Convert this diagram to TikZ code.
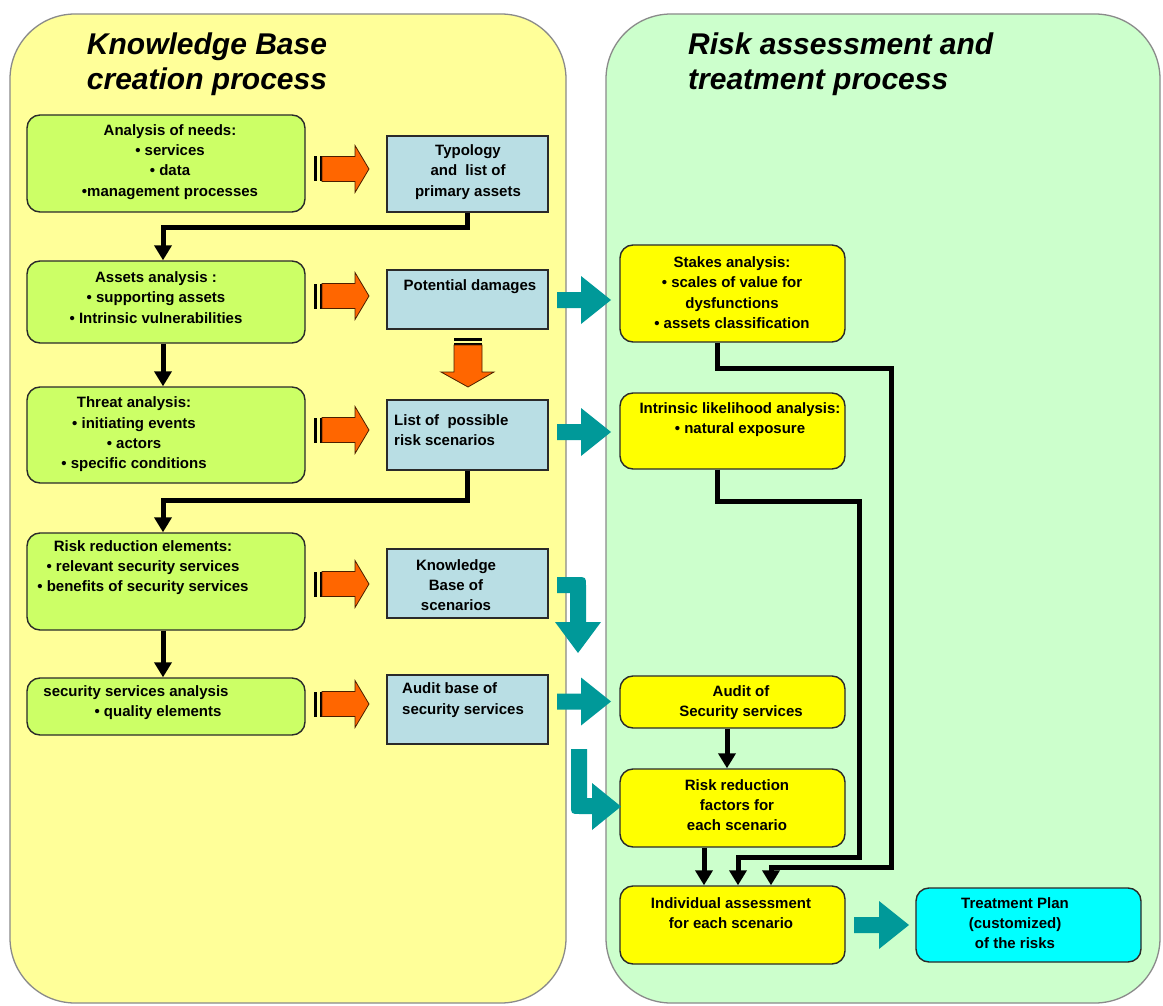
\documentclass[tikz,border=0pt]{standalone}
\usepackage{fontspec}
\setmainfont{Liberation Sans}
\usetikzlibrary{arrows.meta,calc}

\definecolor{panelY}{HTML}{FFFF99}
\definecolor{panelG}{HTML}{CCFFCC}
\definecolor{panelEdge}{HTML}{8A8A8A}
\definecolor{greenbox}{HTML}{CCFF66}
\definecolor{bluebox}{HTML}{B9DEE4}
\definecolor{yellowbox}{HTML}{FFFF00}
\definecolor{cyanbox}{HTML}{00FFFF}
\definecolor{blockorange}{HTML}{FF6600}
\definecolor{blockteal}{HTML}{009999}
\definecolor{boxedge}{HTML}{2A2A2A}

\tikzset{
  panel/.style={draw=panelEdge, line width=1.3, rounded corners=65},
  gbox/.style={draw=boxedge, line width=1.4, fill=greenbox, rounded corners=13, minimum width=278, inner sep=0},
  bbox/.style={draw=boxedge, line width=1.4, fill=bluebox, minimum width=161, inner sep=0},
  ybox/.style={draw=boxedge, line width=1.4, fill=yellowbox, rounded corners=13, minimum width=225, inner sep=0},
  cbox/.style={draw=boxedge, line width=1.4, fill=cyanbox, rounded corners=13, minimum width=225, inner sep=0},
  txt/.style={font=\bfseries\fontsize{15}{20.3}\selectfont, align=center, inner sep=0},
  title/.style={font=\bfseries\itshape\fontsize{30}{35}\selectfont, inner sep=0},
  flow/.style={line width=5, -{Triangle[width=17, length=15]}},
  obar/.style={fill=black},
  oarrow/.style={fill=blockorange, draw=black!70!blockorange, line width=0.8},
  tarrow/.style={fill=blockteal}
}

% striped orange block arrow pointing right, centred on height #1
\newcommand\stripedright[1]{%
  \fill[obar] (314,#1-12.5) rectangle (317,#1+12.5);
  \fill[obar] (319.5,#1-12.5) rectangle (322,#1+12.5);
  \filldraw[oarrow] (322,#1-12.5) -- (355,#1-12.5) -- (355,#1-23.5) -- (369,#1)
     -- (355,#1+23.5) -- (355,#1+12.5) -- (322,#1+12.5) -- cycle;}

% teal block arrow pointing right: height #1, from x #2 to tip x #3
\newcommand\tealright[3]{%
  \fill[tarrow] (#2,#1-8) -- (#3-30,#1-8) -- (#3-30,#1-24) -- (#3,#1)
     -- (#3-30,#1+24) -- (#3-30,#1+8) -- (#2,#1+8) -- cycle;}

\begin{document}
\begin{tikzpicture}[x=1pt,y=-1pt]
\useasboundingbox (0,0) rectangle (1163,1006);
\fill[white] (0,0) rectangle (1163,1006);

% the two process panels
\filldraw[panel, fill=panelY] (10,14) rectangle (566,1003);
\filldraw[panel, fill=panelG] (606,14) rectangle (1160,1003);

\node[title, align=center] (ttlL) at (207,64) {Knowledge Base\\creation process};
\node[title, align=left, anchor=west] (ttlR) at (688,64) {Risk assessment and\\treatment process};

% knowledge base column
\node[gbox, minimum height=97] (g1) at (166,163.5) {};
\node[gbox, minimum height=82] (g2) at (166,302) {};
\node[gbox, minimum height=96] (g3) at (166,435) {};
\node[gbox, minimum height=97] (g4) at (166,581.5) {};
\node[gbox, minimum height=57] (g5) at (166,706.5) {};

\node[txt] (g1t) at (170,162) {Analysis of needs:\\• services\\• data\\•management processes};
\node[txt] (g2t) at (156,297.5) {Assets analysis :\\• supporting assets\\• Intrinsic vulnerabilities};
\node[txt] (g3t) at (134,434.5) {Threat analysis:\\• initiating events\\• actors\\• specific conditions};
\node[txt] (g4t) at (143,567.5) {Risk reduction elements:\\• relevant security services\\• benefits of security services};
\node[txt] (g5a) at (136,693) {security services analysis};
\node[txt] (g5b) at (158,713) {• quality elements};

\node[bbox, minimum height=76] (b1) at (467.5,174) {};
\node[bbox, minimum height=59] (b2) at (467.5,299.5) {};
\node[bbox, minimum height=70] (b3) at (467.5,435) {};
\node[bbox, minimum height=69] (b4) at (467.5,583.5) {};
\node[bbox, minimum height=69] (b5) at (467.5,709.5) {};

\node[txt] (b1t) at (468,172) {Typology\\and\ \ list of\\primary assets};
\node[txt] (b2t) at (470,287) {Potential damages};
\node[txt, align=left, anchor=west] (b3t) at (394,430) {List of\ \ possible\\risk scenarios};
\node[txt] (b4t) at (456,585) {Knowledge\\Base of\\scenarios};
\node[txt, align=left, anchor=west] (b5t) at (402,700) {Audit base of\\security services};

% risk assessment column
\node[ybox, minimum height=97] (y1) at (732.5,293.5) {};
\node[ybox, minimum height=76] (y2) at (732.5,431) {};
\node[ybox, minimum height=52] (y3) at (732.5,702) {};
\node[ybox, minimum height=78] (y4) at (732.5,808) {};
\node[ybox, minimum height=78] (y5) at (732.5,925) {};
\node[cbox, minimum height=74] (c1) at (1028.5,925) {};

\node[txt] (y1t) at (732,292.5) {Stakes analysis:\\• scales of value for\\dysfunctions\\• assets classification};
\node[txt] (y2t) at (740,419.5) {Intrinsic likelihood analysis:\\• natural exposure};
\node[txt] (y3t) at (741,702.5) {Audit of\\Security services};
\node[txt] (y4t) at (737,805) {Risk reduction\\factors for\\each scenario};
\node[txt] (y5t) at (731,913) {Individual assessment\\for each scenario};
\node[txt] (c1t) at (1015,923) {Treatment Plan\\(customized)\\of the risks};

% black flow connectors
\draw[flow] (b1.south) -- ++(0,15) -| ([xshift=-3]g2.north);
\draw[flow] ([xshift=-3]g2.south) -- ([xshift=-3]g3.north);
\draw[flow] (b3.south) -- ++(0,30) -| ([xshift=-3]g4.north);
\draw[flow] ([xshift=-3]g4.south) -- ([xshift=-3]g5.north);

\draw[flow] ([xshift=-15.5]y1.south) -- ++(0,26) -- ++(174,0) -- ++(0,499) -- ++(-120,0) -- ([xshift=38.5]y5.north);
\draw[flow] ([xshift=-15.5]y2.south) -- ++(0,32) -- ++(142,0) -- ++(0,356) -- ++(-121,0) -- ([xshift=5.5]y5.north);
\draw[flow] ([xshift=-28.5]y4.south) -- ([xshift=-28.5]y5.north);
\draw[flow] ([xshift=-5.5]y3.south) -- ([xshift=-5.5]y4.north);

% orange striped block arrows
\stripedright{169}
\stripedright{296}
\stripedright{430}
\stripedright{584}
\stripedright{704}

% orange striped arrow pointing down
\fill[obar] (454,338) rectangle (482,340.5);
\fill[obar] (454,342.5) rectangle (482,345);
\filldraw[oarrow] (454,345) -- (482,345) -- (482,372) -- (494,372) -- (468,387)
   -- (441,372) -- (454,372) -- cycle;

% teal block arrows
\tealright{300}{557}{611}
\tealright{432}{557}{611}
\tealright{701.5}{557}{611}
\tealright{925}{854}{909}

% bent teal arrow turning down
\fill[tarrow] (557,577) -- (577,577) .. controls (586,577) .. (586,586) -- (586,622)
   -- (601,622) -- (578,653) -- (555,622) -- (570,622) -- (570,593) -- (557,593) -- cycle;

% bent teal arrow turning right
\fill[tarrow] (571,749) -- (587,749) -- (587,798) -- (592,798) -- (592,783) -- (621,806.5)
   -- (592,830) -- (592,814) -- (580,814) .. controls (571,814) .. (571,805) -- cycle;

\end{tikzpicture}
\end{document}
